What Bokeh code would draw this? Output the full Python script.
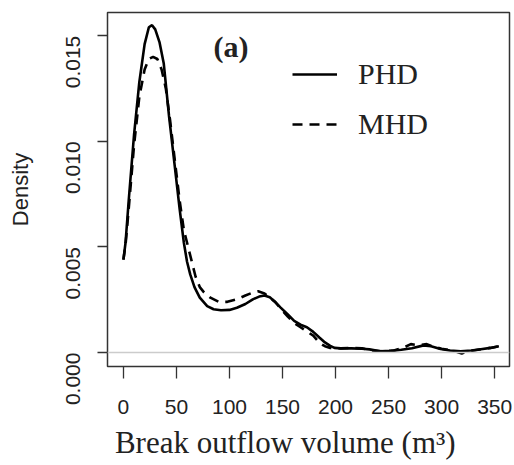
import math
from bokeh.plotting import figure
from bokeh.models import Range1d, FixedTicker, PrintfTickFormatter, Span, Label, Legend, LegendItem
from bokeh.embed import file_html
from bokeh.resources import INLINE

# ---- data ----
phd_x = [0, 2, 5, 10, 15, 20, 24, 27, 30, 34, 38, 43, 48, 53, 57, 60, 63, 67, 72, 79, 85, 92,
         100, 107, 115, 122, 128, 133, 138, 143, 148, 155, 161, 167, 173, 179, 185, 190, 195,
         199, 205, 215, 225, 232, 242, 252, 262, 272, 283, 290, 299, 308, 318, 328, 337, 346, 354]
phd_y = [0.0044, 0.0052, 0.0072, 0.0103, 0.0128, 0.0146, 0.0154, 0.0155, 0.0153, 0.0147, 0.0137,
         0.0112, 0.0090, 0.0068, 0.0052, 0.0043, 0.0037, 0.0031, 0.0026, 0.0022, 0.00205, 0.0020,
         0.00202, 0.00212, 0.0023, 0.00252, 0.00265, 0.0027, 0.00262, 0.0024, 0.00214, 0.0018,
         0.0015, 0.00132, 0.0012, 0.00098, 0.0007, 0.00048, 0.00032, 0.00022, 0.0002, 0.0002,
         0.00018, 0.00015, 0.00006, 0.00008, 0.00013, 0.0002, 0.00034, 0.0003, 0.00017, 0.0001,
         0.00006, 0.0001, 0.00016, 0.00022, 0.0003]

mhd_x = [0, 2, 5, 10, 15, 20, 24, 28, 32, 36, 40, 44, 48, 53, 57, 61, 64, 68, 72, 76, 82, 90,
         98, 107, 115, 122, 127, 133, 138, 143, 148, 155, 161, 167, 173, 179, 185, 190, 195, 205,
         215, 225, 235, 245, 255, 265, 271, 278, 286, 292, 300, 308, 314, 319, 324, 330, 337, 346, 354]
mhd_y = [0.0044, 0.0051, 0.0068, 0.0098, 0.0121, 0.0134, 0.0139, 0.0140, 0.0139, 0.0134, 0.0125,
         0.0110, 0.0093, 0.0072, 0.0058, 0.0050, 0.0044, 0.0036, 0.0031, 0.00285, 0.0026, 0.0024,
         0.0024, 0.00252, 0.0027, 0.00284, 0.0029, 0.0028, 0.0026, 0.0024, 0.0021, 0.0017, 0.0014,
         0.0012, 0.0010, 0.0008, 0.00045, 0.0003, 0.00022, 0.0002, 0.00022, 0.0002, 0.0001,
         0.00006, 0.0001, 0.00025, 0.0004, 0.00035, 0.0004, 0.00028, 0.00018, 0.00012, 0.00004,
         -0.00004, 0.00004, 0.0001, 0.00016, 0.00022, 0.0003]

x_ticks = [0, 50, 100, 150, 200, 250, 300, 350]
y_ticks = [0.0, 0.005, 0.010, 0.015]
series_names = ["PHD", "MHD"]
panel_tag = "(a)"
x_title = "Break outflow volume (m³)"
y_title = "Density"

p = figure(width=514, height=465, output_backend="svg", toolbar_location=None,
           x_range=Range1d(-15, 364), y_range=Range1d(-0.00066, 0.0161),
           frame_width=402, frame_height=354,
           min_border_left=107, min_border_top=12, min_border_right=5, min_border_bottom=99)

p.grid.visible = False
p.outline_line_color = "#333333"
p.outline_line_width = 1.5
p.background_fill_color = "white"
p.border_fill_color = "white"

# zero reference line
p.add_layout(Span(location=0, dimension="width", line_color="#cccccc", line_width=1.5))

r1 = p.line(phd_x, phd_y, line_color="black", line_width=2.6)
r2 = p.line(mhd_x, mhd_y, line_color="black", line_width=2.6, line_dash="10 7")

for ax in (p.xaxis[0], p.yaxis[0]):
    ax.axis_line_color = None
    ax.major_tick_line_color = "#333333"
    ax.major_tick_line_width = 1.3
    ax.major_tick_in = 0
    ax.minor_tick_line_color = None
    ax.major_label_text_font = "Liberation Sans"
    ax.major_label_text_font_size = "21px"
    ax.major_label_text_color = "#222222"

p.xaxis.ticker = FixedTicker(ticks=x_ticks)
p.xaxis.major_tick_out = 12
p.xaxis.major_label_standoff = 21
# trailing no-break spaces shift the centred title left, as in the reference
p.xaxis.axis_label = x_title + "\u00a0" * 6
p.xaxis.axis_label_text_font = "Liberation Serif"
p.xaxis.axis_label_text_font_style = "normal"
p.xaxis.axis_label_text_font_size = "31px"
p.xaxis.axis_label_text_color = "#222222"
p.xaxis.axis_label_standoff = 8

p.yaxis.ticker = FixedTicker(ticks=y_ticks)
p.yaxis.formatter = PrintfTickFormatter(format="%.3f")
p.yaxis.major_tick_out = 10
p.yaxis.major_label_standoff = 24
p.yaxis.major_label_orientation = math.pi / 2
p.yaxis.axis_label = y_title
p.yaxis.axis_label_text_font = "Liberation Sans"
p.yaxis.axis_label_text_font_style = "normal"
p.yaxis.axis_label_text_font_size = "22px"
p.yaxis.axis_label_text_color = "#222222"
p.yaxis.axis_label_standoff = 24

p.add_layout(Label(x=85, y=0.01448, text=panel_tag, text_font="Liberation Serif",
                   text_font_style="bold", text_font_size="30px", text_baseline="middle",
                   text_align="left", text_color="#222222"))

legend = Legend(items=[LegendItem(label=series_names[0], renderers=[r1]),
                       LegendItem(label=series_names[1], renderers=[r2])],
                location=(185, 224), orientation="vertical",
                border_line_color=None, background_fill_alpha=0,
                padding=0, margin=0, spacing=14,
                glyph_width=45, glyph_height=36, label_height=36, label_standoff=21,
                label_text_font="Liberation Serif", label_text_font_size="30px",
                label_text_color="#222222")
p.add_layout(legend)

open("out.html", "w").write(file_html(p, INLINE))
